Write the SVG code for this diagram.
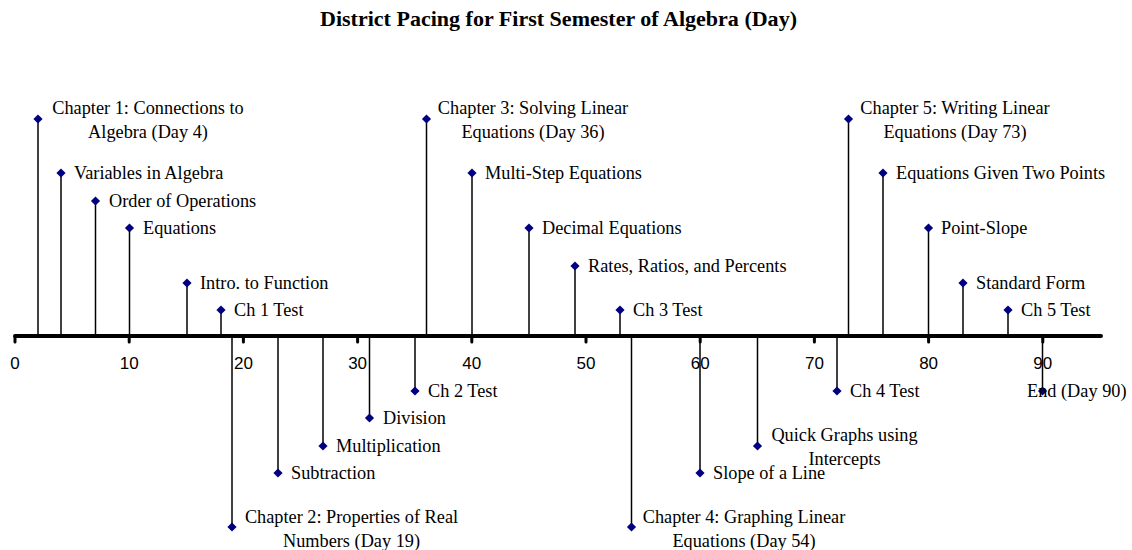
<svg xmlns="http://www.w3.org/2000/svg" width="1132" height="550" viewBox="0 0 1132 550">
  <style>
    .title { font-family: "Liberation Serif", "Times New Roman", serif; font-size: 21px; font-weight: bold; fill: #000; }
    .lbl { font-family: "Liberation Serif", "Times New Roman", serif; font-size: 18.3px; fill: #000; }
    .ax { font-family: "Liberation Sans", Arial, sans-serif; font-size: 17px; fill: #000; text-anchor: middle; }
    .stem { stroke: #000; stroke-width: 1.5; fill: none; }
    .axis { stroke: #000; stroke-width: 4; stroke-linecap: round; fill: none; }
    .tick { stroke: #000; stroke-width: 3; stroke-linecap: round; }
    .mk { fill: #000080; }
  </style>
  <defs>
    <polygon id="diamond" points="0,-4.6 4.6,0 0,4.6 -4.6,0" class="mk"/>
  </defs>

  <rect width="1132" height="550" fill="#fff"/>

  <text class="title" x="558.5" y="26" text-anchor="middle" textLength="477" lengthAdjust="spacingAndGlyphs">District Pacing for First Semester of Algebra (Day)</text>

  <!-- time axis: day d sits at x = 15 + 11.42·d -->
  <g id="axis">
    <line class="axis" x1="15" y1="336" x2="1101" y2="336"/>
    <g>
      <line class="tick" x1="15" y1="337" x2="15" y2="342"/>
      <line class="tick" x1="129.2" y1="337" x2="129.2" y2="342"/>
      <line class="tick" x1="243.4" y1="337" x2="243.4" y2="342"/>
      <line class="tick" x1="357.6" y1="337" x2="357.6" y2="342"/>
      <line class="tick" x1="471.8" y1="337" x2="471.8" y2="342"/>
      <line class="tick" x1="586" y1="337" x2="586" y2="342"/>
      <line class="tick" x1="700.2" y1="337" x2="700.2" y2="342"/>
      <line class="tick" x1="814.4" y1="337" x2="814.4" y2="342"/>
      <line class="tick" x1="928.6" y1="337" x2="928.6" y2="342"/>
      <line class="tick" x1="1042.8" y1="337" x2="1042.8" y2="342"/>
    </g>
    <g>
      <text class="ax" x="15" y="369">0</text>
      <text class="ax" x="129.2" y="369">10</text>
      <text class="ax" x="243.4" y="369">20</text>
      <text class="ax" x="357.6" y="369">30</text>
      <text class="ax" x="471.8" y="369">40</text>
      <text class="ax" x="586" y="369">50</text>
      <text class="ax" x="700.2" y="369">60</text>
      <text class="ax" x="814.4" y="369">70</text>
      <text class="ax" x="928.6" y="369">80</text>
      <text class="ax" x="1042.8" y="369">90</text>
    </g>
  </g>

  <!-- stems from the axis to each event marker -->
  <g id="connectors">
    <line class="stem" x1="38" y1="336" x2="38" y2="119"/>
    <line class="stem" x1="61" y1="336" x2="61" y2="173"/>
    <line class="stem" x1="95.5" y1="336" x2="95.5" y2="201"/>
    <line class="stem" x1="129.5" y1="336" x2="129.5" y2="228"/>
    <line class="stem" x1="187" y1="336" x2="187" y2="283"/>
    <line class="stem" x1="221" y1="336" x2="221" y2="310"/>
    <line class="stem" x1="232" y1="336" x2="232" y2="527"/>
    <line class="stem" x1="278" y1="336" x2="278" y2="473"/>
    <line class="stem" x1="323" y1="336" x2="323" y2="446"/>
    <line class="stem" x1="369.5" y1="336" x2="369.5" y2="418"/>
    <line class="stem" x1="415" y1="336" x2="415" y2="391"/>
    <line class="stem" x1="426.5" y1="336" x2="426.5" y2="119"/>
    <line class="stem" x1="472" y1="336" x2="472" y2="173"/>
    <line class="stem" x1="529" y1="336" x2="529" y2="228"/>
    <line class="stem" x1="575" y1="336" x2="575" y2="266"/>
    <line class="stem" x1="620" y1="336" x2="620" y2="310"/>
    <line class="stem" x1="631.5" y1="336" x2="631.5" y2="527"/>
    <line class="stem" x1="700" y1="336" x2="700" y2="473"/>
    <line class="stem" x1="757.5" y1="336" x2="757.5" y2="446"/>
    <line class="stem" x1="837" y1="336" x2="837" y2="391"/>
    <line class="stem" x1="848.5" y1="336" x2="848.5" y2="119"/>
    <line class="stem" x1="883" y1="336" x2="883" y2="173"/>
    <line class="stem" x1="928.5" y1="336" x2="928.5" y2="228"/>
    <line class="stem" x1="963" y1="336" x2="963" y2="283"/>
    <line class="stem" x1="1008" y1="336" x2="1008" y2="310"/>
    <line class="stem" x1="1042.5" y1="336" x2="1042.5" y2="391"/>
  </g>

  <!-- events -->
  <g id="ev-ch1">
    <use href="#diamond" x="38" y="119"/>
    <text class="lbl" x="148" y="114" text-anchor="middle">Chapter 1: Connections to</text>
    <text class="lbl" x="148" y="138" text-anchor="middle">Algebra (Day 4)</text>
  </g>
  <g id="ev-variables">
    <use href="#diamond" x="61" y="173"/>
    <text class="lbl" x="74" y="179">Variables in Algebra</text>
  </g>
  <g id="ev-order">
    <use href="#diamond" x="95.5" y="201"/>
    <text class="lbl" x="109" y="207">Order of Operations</text>
  </g>
  <g id="ev-equations">
    <use href="#diamond" x="129.5" y="228"/>
    <text class="lbl" x="143" y="234">Equations</text>
  </g>
  <g id="ev-intro-function">
    <use href="#diamond" x="187" y="283"/>
    <text class="lbl" x="200" y="289">Intro. to Function</text>
  </g>
  <g id="ev-ch1-test">
    <use href="#diamond" x="221" y="310"/>
    <text class="lbl" x="234" y="316">Ch 1 Test</text>
  </g>
  <g id="ev-ch2">
    <use href="#diamond" x="232" y="527"/>
    <text class="lbl" x="351.5" y="523" text-anchor="middle">Chapter 2: Properties of Real</text>
    <text class="lbl" x="351.5" y="547" text-anchor="middle">Numbers (Day 19)</text>
  </g>
  <g id="ev-subtraction">
    <use href="#diamond" x="278" y="473"/>
    <text class="lbl" x="291" y="479">Subtraction</text>
  </g>
  <g id="ev-multiplication">
    <use href="#diamond" x="323" y="446"/>
    <text class="lbl" x="336" y="452">Multiplication</text>
  </g>
  <g id="ev-division">
    <use href="#diamond" x="369.5" y="418"/>
    <text class="lbl" x="383" y="424">Division</text>
  </g>
  <g id="ev-ch2-test">
    <use href="#diamond" x="415" y="391"/>
    <text class="lbl" x="428" y="397">Ch 2 Test</text>
  </g>
  <g id="ev-ch3">
    <use href="#diamond" x="426.5" y="119"/>
    <text class="lbl" x="533" y="114" text-anchor="middle">Chapter 3: Solving Linear</text>
    <text class="lbl" x="533" y="138" text-anchor="middle">Equations (Day 36)</text>
  </g>
  <g id="ev-multistep">
    <use href="#diamond" x="472" y="173"/>
    <text class="lbl" x="485" y="179">Multi-Step Equations</text>
  </g>
  <g id="ev-decimal">
    <use href="#diamond" x="529" y="228"/>
    <text class="lbl" x="542" y="234">Decimal Equations</text>
  </g>
  <g id="ev-rates">
    <use href="#diamond" x="575" y="266"/>
    <text class="lbl" x="588" y="272">Rates, Ratios, and Percents</text>
  </g>
  <g id="ev-ch3-test">
    <use href="#diamond" x="620" y="310"/>
    <text class="lbl" x="633" y="316">Ch 3 Test</text>
  </g>
  <g id="ev-ch4">
    <use href="#diamond" x="631.5" y="527"/>
    <text class="lbl" x="744" y="523" text-anchor="middle">Chapter 4: Graphing Linear</text>
    <text class="lbl" x="744" y="547" text-anchor="middle">Equations (Day 54)</text>
  </g>
  <g id="ev-slope">
    <use href="#diamond" x="700" y="473"/>
    <text class="lbl" x="713" y="479">Slope of a Line</text>
  </g>
  <g id="ev-quick-graphs">
    <use href="#diamond" x="757.5" y="446"/>
    <text class="lbl" x="844.5" y="441" text-anchor="middle">Quick Graphs using</text>
    <text class="lbl" x="844.5" y="465" text-anchor="middle">Intercepts</text>
  </g>
  <g id="ev-ch4-test">
    <use href="#diamond" x="837" y="391"/>
    <text class="lbl" x="850" y="397">Ch 4 Test</text>
  </g>
  <g id="ev-ch5">
    <use href="#diamond" x="848.5" y="119"/>
    <text class="lbl" x="955" y="114" text-anchor="middle">Chapter 5: Writing Linear</text>
    <text class="lbl" x="955" y="138" text-anchor="middle">Equations (Day 73)</text>
  </g>
  <g id="ev-two-points">
    <use href="#diamond" x="883" y="173"/>
    <text class="lbl" x="896" y="179">Equations Given Two Points</text>
  </g>
  <g id="ev-point-slope">
    <use href="#diamond" x="928.5" y="228"/>
    <text class="lbl" x="941" y="234">Point-Slope</text>
  </g>
  <g id="ev-standard-form">
    <use href="#diamond" x="963" y="283"/>
    <text class="lbl" x="976" y="289">Standard Form</text>
  </g>
  <g id="ev-ch5-test">
    <use href="#diamond" x="1008" y="310"/>
    <text class="lbl" x="1021" y="316">Ch 5 Test</text>
  </g>
  <g id="ev-end">
    <use href="#diamond" x="1042.5" y="391"/>
    <text class="lbl" x="1027" y="397">End (Day 90)</text>
  </g>
</svg>
